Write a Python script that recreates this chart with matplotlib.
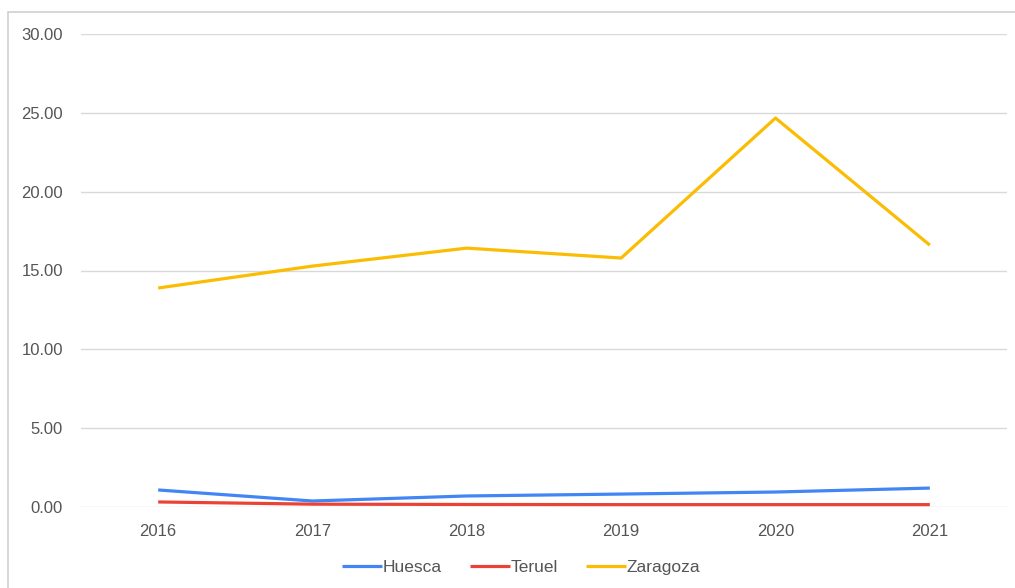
import matplotlib.pyplot as plt
from matplotlib.patches import Rectangle

plt.rcParams['font.family'] = ['Liberation Sans', 'DejaVu Sans']

years = ['2016', '2017', '2018', '2019', '2020', '2021']
huesca = [1.08, 0.38, 0.70, 0.82, 0.95, 1.20]
teruel = [0.32, 0.18, 0.16, 0.15, 0.15, 0.15]
zaragoza = [13.89, 15.28, 16.42, 15.79, 24.67, 16.61]

fig = plt.figure(figsize=(10.15, 5.88), dpi=100)
fig.patches.append(Rectangle((8 / 1015, -0.1), 1.2, (588 - 12) / 588 + 0.1,
                             transform=fig.transFigure, fill=False,
                             edgecolor='#d0d0d0', linewidth=1.2))

ax = fig.add_axes([81 / 1015, 1 - 507 / 588, (1007 - 81) / 1015, (507 - 34) / 588])
x = range(len(years))
ax.plot(x, huesca, color='#4285F4', linewidth=2.3, label='Huesca', solid_capstyle='butt')
ax.plot(x, teruel, color='#EA4335', linewidth=2.3, label='Teruel', solid_capstyle='butt')
ax.plot(x, zaragoza, color='#FBBC04', linewidth=2.3, label='Zaragoza', solid_capstyle='butt')

ax.set_xlim(-0.5, len(years) - 0.5)
ax.set_ylim(0, 30)
ax.set_yticks(range(0, 31, 5))
ax.set_yticklabels([f'{v:.2f}' for v in range(0, 31, 5)])
ax.set_xticks(list(x))
ax.set_xticklabels(years)
ax.grid(axis='y', color='#d9d9d9', linewidth=1)
ax.set_axisbelow(True)
for s in ax.spines.values():
    s.set_visible(False)
ax.tick_params(length=0, labelsize=12, labelcolor='#555555')
ax.tick_params(axis='y', pad=13)
ax.tick_params(axis='x', pad=12)

fig.legend(loc='center', bbox_to_anchor=(521 / 1015, 1 - 567 / 588), ncol=3,
           frameon=False, fontsize=12.5, handlelength=2.3, handletextpad=0.05,
           columnspacing=1.6, labelcolor='#555555')

fig.savefig('out.png', dpi=100)
